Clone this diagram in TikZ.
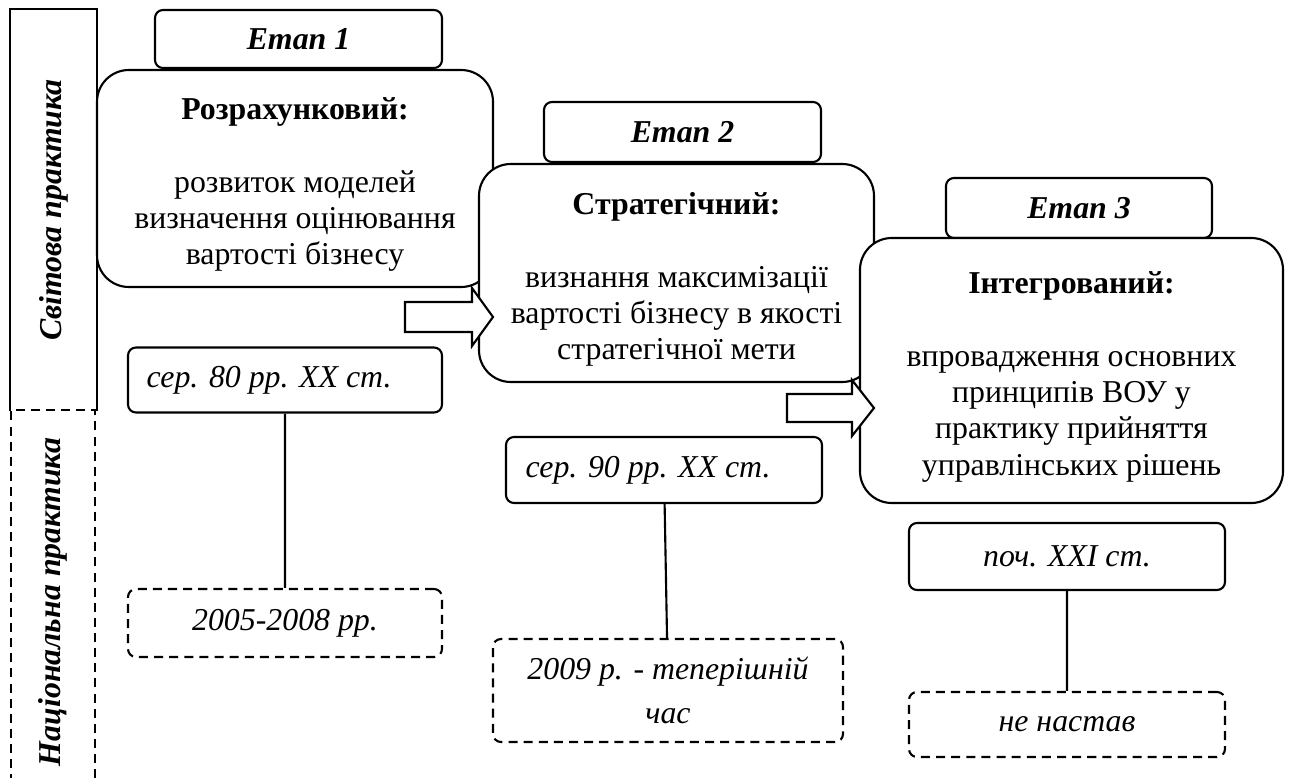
\documentclass[tikz,border=0pt]{standalone}
\usepackage{fontspec}
\setmainfont{Liberation Serif}
\newcommand{\pxl}{0.377pt}
\newcommand{\stagehead}[1]{\rule{0pt}{13pt}\textbf{#1}}
\tikzset{
  box/.style 2 args={minimum width=#1*\pxl, minimum height=#2*\pxl, inner sep=0pt},
  etap/.style={draw, rounded corners=3pt, fill=white, font=\fontsize{12}{13.6}\selectfont\bfseries\itshape},
  stage/.style={draw, rounded corners=12pt, fill=white, align=center, font=\fontsize{12}{13.6}\selectfont},
  period/.style={draw, rounded corners=3pt, fill=white, align=center, font=\fontsize{12}{16.5}\selectfont\itshape},
  natperiod/.style={period, dash pattern=on 3.4pt off 2.3pt},
  side/.style={rotate=90, font=\fontsize{12}{14}\selectfont\bfseries\itshape},
  bigarrow/.style={draw, fill=white}
}
\begin{document}
\begin{tikzpicture}[x=\pxl, y=-\pxl, thick]
      \clip (0,0) rectangle (1289,778);
      \node [box={85}{400}] (world) at (53.5,210) {};
      \draw (world.south west) |- (world.north east) -- (world.south east);
      \node [box={84}{390}, draw, dash pattern=on 3.4pt off 2.3pt] (natl) at (53,605) {};
      \node [side] (worldtxt) at (world.center) {Світова практика};
      \node [side] (natltxt) at (53,602) {Національна практика};

      \node [etap, box={287}{58}] (etap1) at (298.5,39) {Етап 1};
      \node [stage, box={396}{217}] (calc) at (295,178.5)
        {\stagehead{Розрахунковий:}\\[14pt] розвиток моделей\\ визначення оцінювання\\ вартості бізнесу};
      \node [period, box={314}{65}] (date1) at (285,380) {сер. 80 рр. XX ст.\hspace{12pt}};
      \node [natperiod, box={314}{68}] (nat1) at (285,623) {2005-2008 рр.};

      \node [etap, box={277}{60}] (etap2) at (682.5,132) {Етап 2};
      \node [stage, box={395}{218}] (strat) at (676.5,273)
        {\stagehead{Стратегічний:}\\[14pt] визнання максимізації\\ вартості бізнесу в якості\\ стратегічної мети};
      \draw [bigarrow] (405,302) -- (472,302) -- (472,288) -- (493,317) -- (472,346) -- (472,332) -- (405,332) -- cycle;
      \node [period, box={316}{66}] (date2) at (664,470) {сер. 90 рр. XX ст.\hspace{12pt}};
      \node [natperiod, box={350}{103}] (nat2) at (668,690.5) {2009 р. - теперішній\\ час};

      \node [etap, box={266}{60}] (etap3) at (1079,208) {Етап 3};
      \node [stage, box={423}{265}] (integr) at (1071.5,370.5)
        {\stagehead{Інтегрований:}\\[14pt] впровадження основних\\ принципів ВОУ у\\ практику прийняття\\ управлінських рішень};
      \draw [bigarrow] (787,394) -- (852,394) -- (852,380) -- (874,408) -- (852,436) -- (852,422) -- (787,422) -- cycle;
      \node [period, box={316}{67}] (date3) at (1067,556.5) {поч. XXI ст.};
      \node [natperiod, box={316}{65}] (nat3) at (1067,724.5) {не настав};

      \path [draw]
      (date1) -- (nat1)
      (date2) -- (nat2)
      (date3) -- (nat3)
      ;
\end{tikzpicture}
\end{document}
